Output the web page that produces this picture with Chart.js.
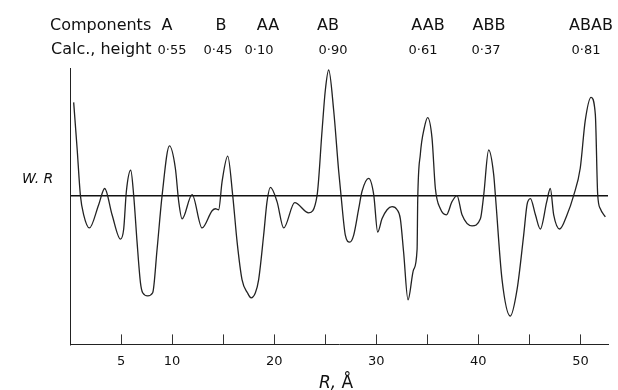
<!DOCTYPE html>
<html>
<head>
<meta charset="utf-8">
<script src="https://cdn.jsdelivr.net/npm/chart.js@4.4.0/dist/chart.umd.min.js"></script>
<style>
  html, body { margin: 0; padding: 0; background: #fff; }
</style>
</head>
<body>
<canvas id="wrChart" width="618" height="390"></canvas>
<script>
// distance R in Angstrom
const rValues = [
  0.36, 0.70, 1.02, 1.34, 1.90, 2.81, 3.40, 4.12, 4.94, 5.26,
  5.52, 5.95, 6.24, 6.57, 6.90, 7.12, 7.61, 8.10, 8.53, 9.02,
  9.74, 10.32, 10.65, 10.98, 11.96, 12.94, 13.92, 14.25, 14.56, 14.90,
  15.45, 15.94, 16.37, 16.85, 17.38, 17.74, 18.16, 18.48, 18.97, 19.30,
  19.63, 20.28, 20.93, 22.01, 23.38, 24.20, 24.69, 25.01, 25.34, 25.83,
  26.32, 26.55, 26.97, 27.40, 27.79, 28.28, 28.60, 29.26, 29.75, 30.14,
  30.56, 31.06, 31.55, 32.04, 32.36, 32.68, 33.11, 33.66, 34.00, 34.06,
  34.32, 34.71, 35.03, 35.46, 35.79, 36.28, 36.87, 37.42, 37.91, 38.40,
  39.38, 40.20, 40.52, 41.01, 41.50, 41.67, 42.32, 43.13, 43.79, 44.44,
  44.77, 45.10, 45.59, 46.07, 46.70, 47.05, 47.38, 47.97, 48.69, 49.33,
  49.98, 50.47, 51.04, 51.46, 51.69, 51.95, 52.44
];
// W.R (arbitrary units)
const wrValues = [
  9.2, 4.6, 0.0, -1.9, -3.2, -0.9, 0.7, -1.9, -4.3, -3.3,
  0.4, 2.5, 0.0, -4.6, -8.6, -9.6, -9.9, -9.6, -5.3, 0.0,
  4.9, 2.7, -0.6, -2.3, 0.1, -3.2, -1.5, -1.3, -1.4, 1.4,
  3.9, 0.0, -4.6, -8.3, -9.6, -10.1, -9.6, -8.3, -3.9, -0.6,
  0.8, -0.6, -3.2, -0.7, -1.7, 0.0, 6.4, 10.4, 12.4, 8.4,
  2.4, 0.0, -3.9, -4.6, -3.9, -1.3, 0.4, 1.7, 0.1, -3.6,
  -2.3, -1.4, -1.1, -1.4, -2.3, -5.6, -10.3, -7.3, -5.3, -0.5,
  4.1, 6.7, 7.7, 5.7, 0.7, -1.3, -1.9, -0.6, 0.0, -1.9,
  -3.0, -2.3, 0.0, 4.5, 2.1, 0.0, -8.3, -11.9, -9.3, -3.9,
  -0.9, -0.3, -1.9, -3.3, -0.6, 0.7, -1.9, -3.3, -1.9, 0.0,
  2.7, 7.4, 9.7, 8.0, 0.1, -1.3, -2.1
];
const tickValues = [5, 10, 15, 20, 25, 30, 35, 40, 45, 50];
const labelledTicks = [5, 10, 20, 30, 40, 50];
const components = ['A', 'B', 'AA', 'AB', 'AAB', 'ABB', 'ABAB'];
const calcHeights = ['0·55', '0·45', '0·10', '0·90', '0·61', '0·37', '0·81'];

// header label centres (px)
const compX = [167, 221, 268, 328, 428, 489, 591];
const calcX = [172, 218, 259, 333, 423, 486, 586];

const headerText = {
  id: 'headerText',
  afterDraw(chart) {
    const ctx = chart.ctx;
    ctx.save();
    ctx.fillStyle = '#111';
    ctx.textBaseline = 'alphabetic';

    ctx.font = '16px "DejaVu Sans"';
    ctx.textAlign = 'left';
    ctx.fillText('Components', 50, 30);
    ctx.fillText('Calc., height', 51, 54);
    ctx.textAlign = 'center';
    components.forEach((c, i) => ctx.fillText(c, compX[i], 30));
    ctx.font = '13px "DejaVu Sans"';
    calcHeights.forEach((h, i) => ctx.fillText(h, calcX[i], 54));

    // y label
    ctx.textAlign = 'left';
    ctx.font = 'italic 14px "DejaVu Sans"';
    ctx.fillText('W. R', 22, 183);

    // x title: italic R, upright Å
    const xs = chart.scales.x;
    const cx = (xs.left + xs.right) / 2 - 3;
    ctx.font = 'italic 17px "DejaVu Sans"';
    const w1 = ctx.measureText('R, ').width;
    ctx.font = '17px "DejaVu Sans"';
    const w2 = ctx.measureText('Å').width;
    let x0 = cx - (w1 + w2) / 2;
    ctx.font = 'italic 17px "DejaVu Sans"';
    ctx.fillText('R, ', x0, 388);
    ctx.font = '17px "DejaVu Sans"';
    ctx.fillText('Å', x0 + w1, 388);
    ctx.restore();
  }
};

new Chart(document.getElementById('wrChart'), {
  type: 'line',
  data: {
    datasets: [{
      data: rValues.map((r, i) => ({ x: r, y: wrValues[i] })),
      borderColor: '#222',
      borderWidth: 1.3,
      pointRadius: 0,
      cubicInterpolationMode: 'monotone',
      fill: false,
      clip: false
    }]
  },
  options: {
    responsive: false,
    animation: false,
    devicePixelRatio: 1,
    layout: { padding: { left: 70, right: 10, top: 68, bottom: 2 } },
    plugins: {
      legend: { display: false },
      tooltip: { enabled: false }
    },
    scales: {
      x: {
        type: 'linear',
        min: 0,
        max: 52.7,
        afterBuildTicks: (scale) => { scale.ticks = tickValues.map(v => ({ value: v })); },
        ticks: {
          autoSkip: false,
          maxRotation: 0,
          padding: 19,
          color: '#111',
          font: { family: 'DejaVu Sans', size: 13 },
          callback: (v) => labelledTicks.includes(v) ? String(v) : ''
        },
        grid: { drawOnChartArea: false, drawTicks: true, tickLength: -10, color: '#333' },
        border: { display: true, color: '#222', width: 1 }
      },
      y: {
        min: -14.7,
        max: 12.6,
        afterBuildTicks: (scale) => { scale.ticks = [{ value: 0 }]; },
        ticks: { display: false },
        grid: { drawTicks: false, color: '#111', lineWidth: 1.5 },
        border: { display: true, color: '#222', width: 1 }
      }
    }
  },
  plugins: [headerText]
});
</script>
</body>
</html>
